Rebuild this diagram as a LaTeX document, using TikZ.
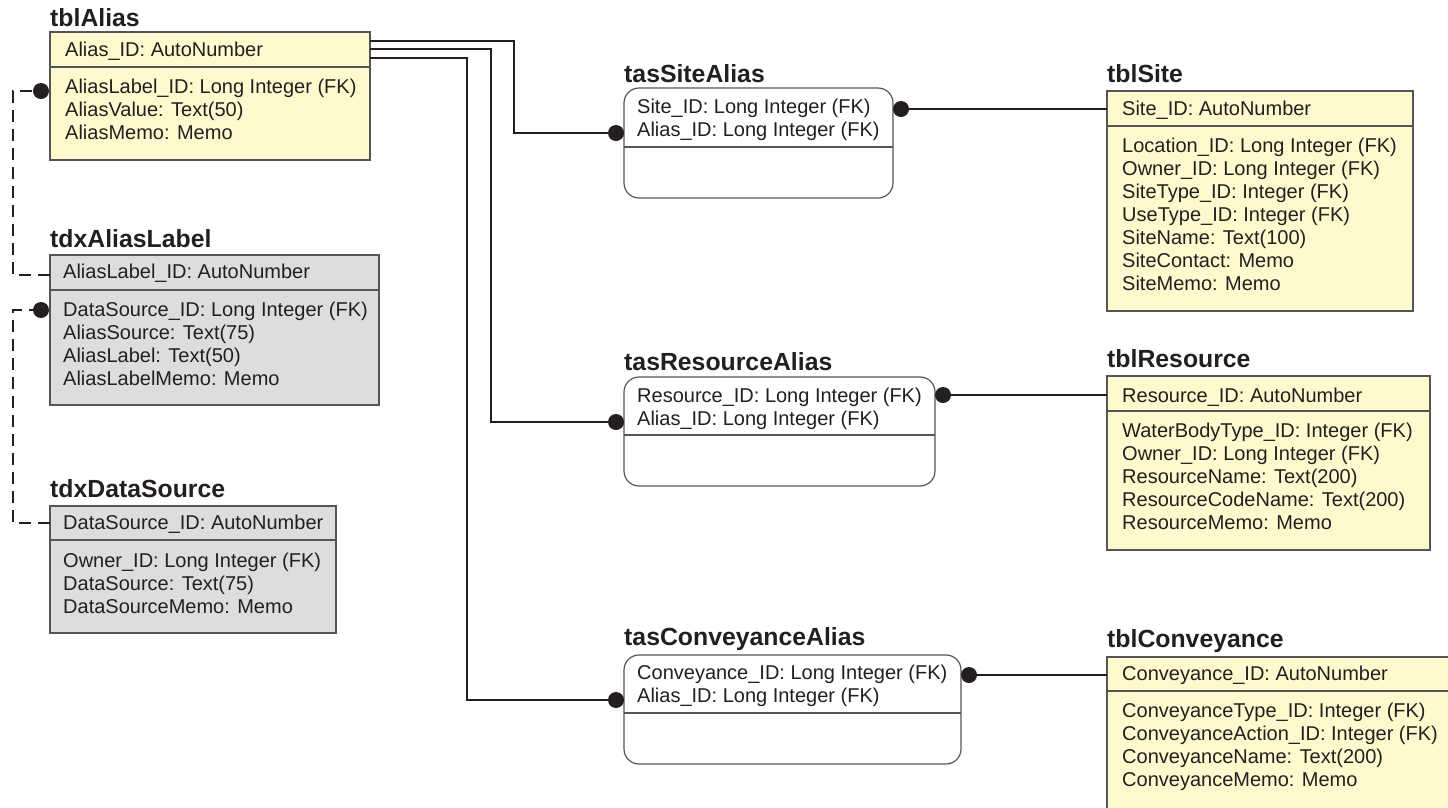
\documentclass[tikz,border=0pt]{standalone}
\usepackage{fontspec}
\setmainfont{Liberation Sans}
\begin{document}
\definecolor{tyellow}{RGB}{255,250,205}
\definecolor{tgray}{RGB}{221,221,221}
\definecolor{bordc}{RGB}{85,85,85}
\definecolor{txtc}{RGB}{35,31,32}
\begin{tikzpicture}[x=1pt,y=-1pt,
  tbox/.style={draw=bordc, line width=1.2pt, inner sep=0pt, outer sep=0pt, anchor=north west},
  ybox/.style={tbox, fill=tyellow},
  gbox/.style={tbox, fill=tgray},
  jbox/.style={tbox, fill=white, rounded corners=15pt},
  divl/.style={draw=bordc, line width=1.1pt},
  fld/.style={anchor=base west, inner sep=0pt, text=txtc, font=\fontsize{20pt}{23pt}\selectfont},
  ttl/.style={anchor=base west, inner sep=0pt, text=txtc, font=\fontsize{24.8pt}{28pt}\selectfont\bfseries},
  conn/.style={draw=txtc, line width=1.1pt},
  dconn/.style={draw=txtc, line width=1.1pt, dash pattern=on 12pt off 7pt},
  dotc/.style={fill=txtc}]
\useasboundingbox (0,0) rectangle (1448,807);
\clip (0,0) rectangle (1448,807);

% ---------- tblAlias ----------
\node[ybox, minimum width=320pt, minimum height=128pt] (tblAlias) at (50,32) {};
\node[ttl] (tblAlias-t) at (50,26) {tblAlias};
\node[fld] (tblAlias-pk) at (65,56) {Alias\_ID: AutoNumber};
\draw[divl] (50,67) -- (370,67);
\foreach \t [count=\i from 0] in {AliasLabel\_ID: Long Integer (FK),AliasValue: Text(50),AliasMemo: Memo}
  \node[fld] (tblAlias-r\i) at (65,93+23*\i) {\t};

% ---------- tdxAliasLabel ----------
\node[gbox, minimum width=329pt, minimum height=150pt] (tdxAliasLabel) at (50,255) {};
\node[ttl] (tdxAliasLabel-t) at (50,247) {tdxAliasLabel};
\node[fld] (tdxAliasLabel-pk) at (63,278) {AliasLabel\_ID: AutoNumber};
\draw[divl] (50,290) -- (379,290);
\foreach \t [count=\i from 0] in {DataSource\_ID: Long Integer (FK),AliasSource: Text(75),AliasLabel: Text(50),AliasLabelMemo: Memo}
  \node[fld] (tdxAliasLabel-r\i) at (63,316+23*\i) {\t};

% ---------- tdxDataSource ----------
\node[gbox, minimum width=286pt, minimum height=127pt] (tdxDataSource) at (50,506) {};
\node[ttl] (tdxDataSource-t) at (50,497) {tdxDataSource};
\node[fld] (tdxDataSource-pk) at (63,529) {DataSource\_ID: AutoNumber};
\draw[divl] (50,540) -- (336,540);
\foreach \t [count=\i from 0] in {Owner\_ID: Long Integer (FK),DataSource: Text(75),DataSourceMemo: Memo}
  \node[fld] (tdxDataSource-r\i) at (63,567+23*\i) {\t};

% ---------- tblSite ----------
\node[ybox, minimum width=306pt, minimum height=220pt] (tblSite) at (1107,91) {};
\node[ttl] (tblSite-t) at (1107,82) {tblSite};
\node[fld] (tblSite-pk) at (1122,115) {Site\_ID: AutoNumber};
\draw[divl] (1107,126) -- (1413,126);
\foreach \t [count=\i from 0] in {Location\_ID: Long Integer (FK),Owner\_ID: Long Integer (FK),SiteType\_ID: Integer (FK),UseType\_ID: Integer (FK),SiteName: Text(100),SiteContact: Memo,SiteMemo: Memo}
  \node[fld] (tblSite-r\i) at (1122,152+23*\i) {\t};

% ---------- tblResource ----------
\node[ybox, minimum width=323pt, minimum height=174pt] (tblResource) at (1107,376) {};
\node[ttl] (tblResource-t) at (1107,367) {tblResource};
\node[fld] (tblResource-pk) at (1122,402) {Resource\_ID: AutoNumber};
\draw[divl] (1107,411) -- (1430,411);
\foreach \t [count=\i from 0] in {WaterBodyType\_ID: Integer (FK),Owner\_ID: Long Integer (FK),ResourceName: Text(200),ResourceCodeName: Text(200),ResourceMemo: Memo}
  \node[fld] (tblResource-r\i) at (1122,437+23*\i) {\t};

% ---------- tblConveyance ----------
\node[ybox, minimum width=353pt, minimum height=173pt] (tblConveyance) at (1107,657) {};
\node[ttl] (tblConveyance-t) at (1107,647) {tblConveyance};
\node[fld] (tblConveyance-pk) at (1122,680) {Conveyance\_ID: AutoNumber};
\draw[divl] (1107,691) -- (1460,691);
\foreach \t [count=\i from 0] in {ConveyanceType\_ID: Integer (FK),ConveyanceAction\_ID: Integer (FK),ConveyanceName: Text(200),ConveyanceMemo: Memo}
  \node[fld] (tblConveyance-r\i) at (1122,717+23*\i) {\t};

% ---------- tasSiteAlias ----------
\node[jbox, minimum width=269pt, minimum height=110pt] (tasSiteAlias) at (624,88) {};
\node[ttl] (tasSiteAlias-t) at (624,82) {tasSiteAlias};
\node[fld] (tasSiteAlias-r0) at (637,113) {Site\_ID: Long Integer (FK)};
\node[fld] (tasSiteAlias-r1) at (637,136) {Alias\_ID: Long Integer (FK)};
\draw[divl] (624,147) -- (893,147);

% ---------- tasResourceAlias ----------
\node[jbox, minimum width=311pt, minimum height=109pt] (tasResourceAlias) at (624,377) {};
\node[ttl] (tasResourceAlias-t) at (624,370) {tasResourceAlias};
\node[fld] (tasResourceAlias-r0) at (637,402) {Resource\_ID: Long Integer (FK)};
\node[fld] (tasResourceAlias-r1) at (637,425) {Alias\_ID: Long Integer (FK)};
\draw[divl] (624,435) -- (935,435);

% ---------- tasConveyanceAlias ----------
\node[jbox, minimum width=337pt, minimum height=109pt] (tasConveyanceAlias) at (624,655) {};
\node[ttl] (tasConveyanceAlias-t) at (624,645) {tasConveyanceAlias};
\node[fld] (tasConveyanceAlias-r0) at (637,679) {Conveyance\_ID: Long Integer (FK)};
\node[fld] (tasConveyanceAlias-r1) at (637,702) {Alias\_ID: Long Integer (FK)};
\draw[divl] (624,713) -- (961,713);

% ---------- connector end points ----------
\coordinate (aS) at (370,41);
\coordinate (aR) at (370,49);
\coordinate (aC) at (370,58);
\coordinate (sL) at (616,133);
\coordinate (rL) at (616,422);
\coordinate (cL) at (616,700);
\coordinate (sR) at (901,109);
\coordinate (rR) at (943,395);
\coordinate (cR) at (969,675);
\coordinate (sT) at (1107,109);
\coordinate (rT) at (1107,395);
\coordinate (cT) at (1107,675);
\coordinate (alD) at (41,91);
\coordinate (alE) at (50,275);
\coordinate (dsD) at (41,310);
\coordinate (dsE) at (50,523);

% solid connectors from tblAlias
\draw[conn] (aS) -- (514,41) -- (514,133) -- (sL);
\draw[conn] (aR) -- (491,49) -- (491,422) -- (rL);
\draw[conn] (aC) -- (467,58) -- (467,700) -- (cL);
\draw[conn] (sR) -- (sT);
\draw[conn] (rR) -- (rT);
\draw[conn] (cR) -- (cT);

% dashed connectors
\draw[dconn] (alE) -- (13,275) -- (13,91) -- (alD);
\draw[dconn] (dsE) -- (13,523) -- (13,310) -- (dsD);

% dots
\foreach \p in {sL,rL,cL,sR,rR,cR,alD,dsD}
  \fill[dotc] (\p) circle (8pt);
\end{tikzpicture}
\end{document}
